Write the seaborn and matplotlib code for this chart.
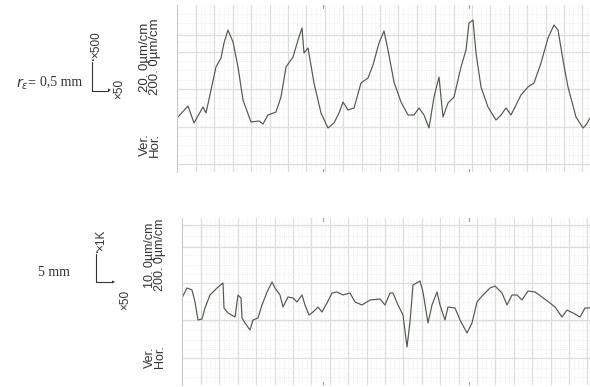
import numpy as np
import pandas as pd
import matplotlib.pyplot as plt
import seaborn as sns

top_x = [1, 11, 17, 26, 29, 34, 39, 44, 47, 51, 56, 61, 66, 74, 82, 86, 91, 99, 104,
         109, 116, 121, 125, 127, 131, 137, 144, 151, 157, 162, 166, 171, 177, 184, 191,
         196, 202, 207, 211, 217, 224, 231, 237, 242, 247, 252, 257, 262, 266, 271, 277,
         284, 289, 292, 296, 299, 304, 311, 319, 324, 329, 334, 344, 351, 357, 364, 371,
         377, 381, 386, 391, 399, 406, 409, 413]
top_y = [55, 66, 49, 65, 59, 82, 105, 114, 129, 142, 130, 105, 72, 50, 51, 48, 57, 60, 75,
         105, 115, 132, 144, 119, 124, 89, 59, 44, 49, 59, 70, 62, 64, 89, 94, 107, 129,
         141, 122, 90, 70, 57, 57, 64, 57, 44, 75, 95, 55, 69, 75, 105, 122, 149, 152,
         119, 85, 65, 52, 57, 64, 57, 77, 85, 89, 109, 134, 147, 142, 112, 85, 55, 44,
         47, 54]
bottom_x = [0, 5, 10, 13, 16, 20, 23, 28, 35, 41, 42, 46, 53, 56, 59, 60, 63, 68, 71, 76,
            80, 85, 90, 93, 98, 101, 106, 111, 115, 120, 123, 127, 131, 136, 140, 145, 150,
            155, 161, 168, 173, 180, 188, 198, 203, 208, 211, 216, 221, 225, 228, 231, 238,
            241, 246, 250, 255, 258, 263, 266, 273, 278, 285, 290, 295, 301, 308, 313, 320,
            325, 330, 335, 340, 346, 353, 360, 368, 373, 380, 385, 391, 398, 403, 408]
bottom_y = [87, 97, 95, 83, 65, 66, 77, 90, 97, 102, 77, 72, 68, 90, 87, 67, 62, 55, 65,
            67, 80, 93, 103, 97, 90, 78, 88, 87, 83, 90, 80, 70, 73, 78, 73, 82, 92, 93,
            90, 92, 83, 80, 85, 86, 80, 92, 92, 80, 70, 38, 63, 100, 104, 93, 62, 80, 93,
            80, 65, 78, 77, 65, 52, 62, 83, 90, 97, 99, 92, 80, 90, 90, 85, 94, 93, 88,
            82, 78, 68, 75, 72, 68, 77, 77]

sns.set_style("white")
plt.rcParams["font.family"] = ["Liberation Sans", "DejaVu Sans"]

fig = plt.figure(figsize=(5.9, 3.87), dpi=100)
W, H = 590, 387


def add_panel(left, top, right, bottom, ylines):
    ax = fig.add_axes([left / W, 1 - bottom / H, (right - left) / W, (bottom - top) / H])
    ax.set_xlim(0, right - left)
    ax.set_ylim(0, bottom - top)
    ax.set_xticks(np.arange(19, right - left, 18.4))
    ax.set_yticks(ylines)
    ax.set_xticks(np.arange(19, right - left, 18.4 / 4), minor=True)
    ax.set_yticks(np.arange(8, bottom - top, 37.5 / 4), minor=True)
    ax.grid(True, which="major", color="#dcdcdc", lw=0.9)
    ax.grid(True, which="minor", color="#e8e8e8", lw=0.6, ls=":")
    ax.tick_params(which="both", length=0, labelbottom=False, labelleft=False)
    for side in ["top", "right", "bottom"]:
        ax.spines[side].set_visible(False)
    ax.spines["left"].set_color("#c8c8c8")
    ax.spines["left"].set_linewidth(0.8)
    return ax


ax1 = add_panel(177, 5, 590, 172, [8, 45, 83, 120, 137])
sns.lineplot(x=top_x, y=top_y, ax=ax1, color="#4f5a4c", lw=0.85, sort=False)

ax2 = add_panel(182, 218, 590, 385, [27, 65, 102, 138, 160])
sns.lineplot(x=bottom_x, y=bottom_y, ax=ax2, color="#4f5a4c", lw=0.85, sort=False)

for ax, xs in [(ax1, [146, 292]), (ax2, [141, 287])]:
    lo, hi = ax.get_ylim()
    for x in xs:
        ax.plot([x, x], [hi - 3, hi], color="#999999", lw=0.8)
        ax.plot([x, x], [lo, lo + 3], color="#999999", lw=0.8)

ink = "#333333"
serif = ["Liberation Serif", "DejaVu Serif"]


def px(x, y):
    return x / W, 1 - y / H


# top panel labels
fig.text(*px(16, 84), r"$r_{\varepsilon}$=", fontsize=10, family=serif, color=ink, va="center")
fig.text(*px(40, 82), "0,5 mm", fontsize=10, family=serif, color=ink, va="center")
fig.add_artist(plt.Line2D([92 / W, 92 / W, 108 / W], [1 - 62 / H, 1 - 91 / H, 1 - 91 / H],
                          color=ink, lw=0.8))
fig.text(*px(92, 60), "\u25b2", fontsize=3, color=ink, ha="center", va="center")
fig.text(*px(110, 91), "\u25b6", fontsize=3, color=ink, ha="center", va="center")
fig.text(*px(96, 45), "\u00d7500", fontsize=8.5, rotation=90, color=ink, ha="center", va="center")
fig.text(*px(119, 89), "\u00d750", fontsize=8.5, rotation=90, color=ink, ha="center", va="center")
fig.text(*px(150, 57), "20. 0\u00b5m/cm\n200. 0\u00b5m/cm", fontsize=9.5, rotation=90,
         color=ink, ha="center", va="center", linespacing=0.85)
fig.text(*px(150, 145), "Ver.\nHor.", fontsize=9.5, rotation=90, color=ink,
         ha="center", va="center", linespacing=0.85)

# bottom panel labels
fig.text(*px(38, 272), "5 mm", fontsize=10, family=serif, color=ink, va="center")
fig.add_artist(plt.Line2D([96 / W, 96 / W, 112 / W], [1 - 254 / H, 1 - 282 / H, 1 - 282 / H],
                          color=ink, lw=0.8))
fig.text(*px(96, 252), "\u25b2", fontsize=3, color=ink, ha="center", va="center")
fig.text(*px(114, 282), "\u25b6", fontsize=3, color=ink, ha="center", va="center")
fig.text(*px(101, 240), "\u00d71K", fontsize=8.5, rotation=90, color=ink, ha="center", va="center")
fig.text(*px(125, 300), "\u00d750", fontsize=8.5, rotation=90, color=ink, ha="center", va="center")
fig.text(*px(155, 255), "10. 0\u00b5m/cm\n200. 0\u00b5m/cm", fontsize=9, rotation=90,
         color=ink, ha="center", va="center", linespacing=0.85)
fig.text(*px(155, 357), "Ver.\nHor.", fontsize=9, rotation=90, color=ink,
         ha="center", va="center", linespacing=0.85)

fig.savefig("out.png", dpi=100)
